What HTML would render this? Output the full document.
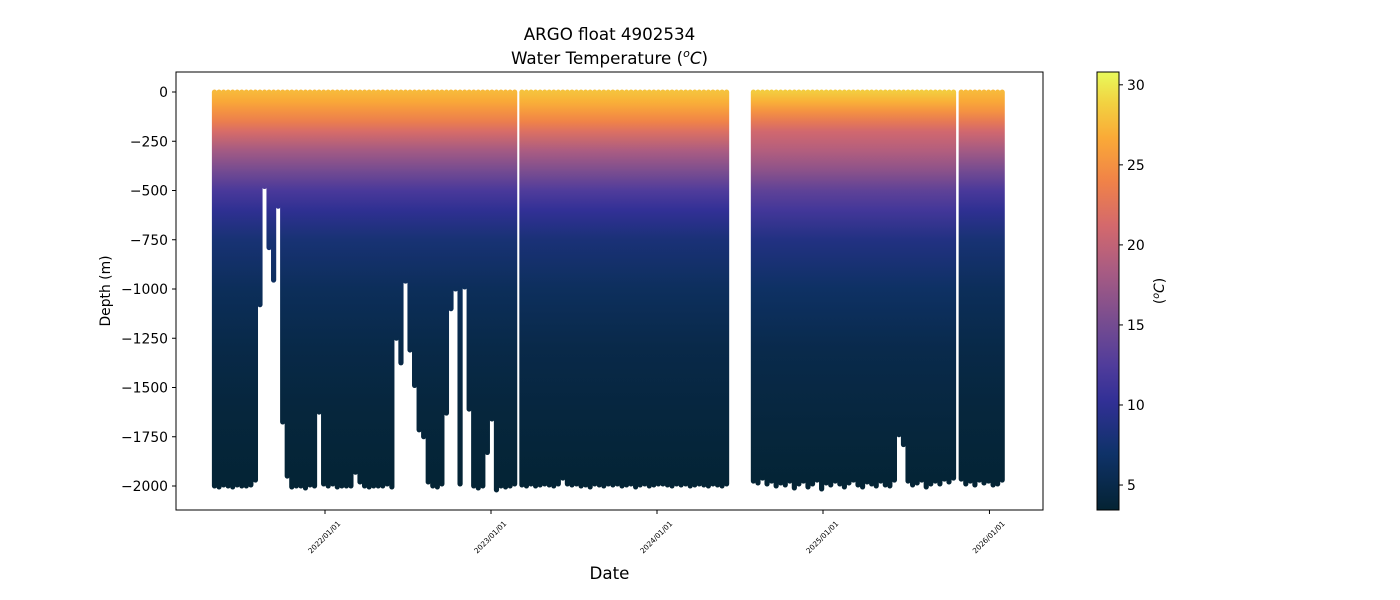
<!DOCTYPE html>
<html><head><meta charset="utf-8"><style>
body{margin:0;background:#fff;}
svg{display:block;font-family:"DejaVu Sans","Liberation Sans",sans-serif;}
</style></head><body>
<svg id="chart" width="1400" height="600" viewBox="0 0 1400 600" xmlns="http://www.w3.org/2000/svg">
<rect width="1400" height="600" fill="#fff"/>
<defs id="defs"></defs>
<text x="609.5" y="40" text-anchor="middle" font-size="16.7">ARGO float 4902534</text>
<text x="609.5" y="64" text-anchor="middle" font-size="16.7">Water Temperature (<tspan font-style="italic" font-size="11" dy="-7">o</tspan><tspan font-style="italic" dy="7">C</tspan>)</text>
<g id="plot"></g>
<rect x="176" y="72" width="867" height="438" fill="none" stroke="#000" stroke-width="1"/>
<g id="yaxis"></g>
<g id="xaxis"></g>
<text transform="translate(110,291) rotate(-90)" text-anchor="middle" font-size="13.9">Depth (m)</text>
<text x="609.5" y="579" text-anchor="middle" font-size="16.7">Date</text>
<g id="cbar"></g>
<text transform="translate(1164,291) rotate(-90)" text-anchor="middle" font-size="13.9">(<tspan font-style="italic" font-size="9.5" dy="-5">o</tspan><tspan font-style="italic" dy="5">C</tspan>)</text>
</svg>
<script>
const NS="http://www.w3.org/2000/svg";
// ---- data ----
const seg1Days=[-243,-233,-223,-213,-203,-193,-183,-173,-163,-153,-143,-133,-123,-113,-103,-93,-83,-73,-63,-53,-43,-33,-23,-13,-3,7,17,27,37,47,57,67,77,87,97,107,117,127,137,147,157,167,177,187,197,207,217,227,237,247,257,267,277,287,297,307,317,327,337,347,357,367,377,387,397,407,417];
const seg1Depths=[2000,2005,1995,2000,2005,1995,2000,2000,1995,1970,1080,480,790,955,580,1675,1950,2005,2000,2000,2010,1995,2000,1625,1990,2000,1990,2005,2000,2000,2000,1930,1980,2000,2005,2000,2000,2000,1990,2005,1250,1375,960,1310,1490,1715,1750,1980,2000,2005,1990,1630,1100,1000,1990,990,1610,2000,2010,2000,1830,1660,2020,2000,2005,2000,1990];
const seg2Days=[433,443,453,463,473,483,493,503,513,523,533,543,553,563,573,583,593,603,613,623,633,643,653,663,673,683,693,703,713,723,733,743,753,763,773,783,793,803,813,823,833,843,853,863,873,883];
const seg2Depths=[1995,2000,1990,2000,1995,1990,1995,2000,1990,1960,1990,1995,1990,2000,1995,2005,1990,1995,2000,1990,1995,1990,2000,1995,1990,2005,1995,1990,2000,1995,1990,1990,1995,2000,1990,1995,1990,2000,1995,1990,1995,2000,1990,1995,2000,1990];
const seg3Days=[942,952,962,972,982,992,1002,1012,1022,1032,1042,1052,1062,1072,1082,1092,1102,1112,1122,1132,1142,1152,1162,1172,1182,1192,1202,1212,1222,1232,1242,1252,1262,1272,1282,1292,1302,1312,1322,1332,1342,1352,1362,1372,1382];
const seg3Depths=[1975,1985,1960,1990,1975,2000,1985,1995,1975,2010,1990,1975,2005,1990,1970,2015,1985,1995,1975,1990,2005,1985,1970,1995,2005,1980,1990,2000,1975,1995,2000,1970,1740,1790,1975,1995,1985,1970,2005,1990,1975,1990,1965,1980,1960];
const seg4Days=[1399,1409,1419,1429,1439,1449,1459,1469,1479,1489];
const seg4Depths=[1965,1990,1975,1995,1970,1985,1975,1995,1990,1970];
const levelDepths=[0,50,100,150,200,300,400,500,600,750,1000,1300,1600,2000];
const seg1Temps=[27.5,26.5,25,23.5,21.5,18,15,12,10,7.8,6,4.8,4.1,3.6];
const seg2Temps=[28,27,25.5,24,22,18.5,15.5,12.5,10.3,8,6.2,4.9,4.2,3.6];
const seg3Temps=[28.5,27,25,23,21,19,16.5,13.5,11.5,8.8,6.7,5.1,4.3,3.6];
const seg4Temps=[27.5,26.5,25,23,21,18,15,12,10,7.8,6,4.8,4.1,3.6];
const yTicks=[0,-250,-500,-750,-1000,-1250,-1500,-1750,-2000];
const xTickDays=[0,365,730,1095,1461];
const xTickLabels=["2022/01/01","2023/01/01","2024/01/01","2025/01/01","2026/01/01"];
const cbTicks=[5,10,15,20,25,30];
// ---- scales ----
const X0=325, PX_PER_DAY=166/365;
function xScale(d){return X0+d*PX_PER_DAY;}
function yScale(depth){return 92+depth*0.197;}
const TMIN=3.44,TMAX=30.8;
const cmap=[[0,[4,35,51]],[0.13,[15,50,105]],[0.25,[50,48,150]],[0.33,[80,60,155]],[0.42,[115,75,145]],[0.55,[170,92,130]],[0.65,[212,105,108]],[0.75,[240,130,72]],[0.85,[250,170,55]],[0.93,[242,210,65]],[1,[232,250,91]]];
function color(t){let f=(t-TMIN)/(TMAX-TMIN);f=Math.max(0,Math.min(1,f));
for(let i=1;i<cmap.length;i++){if(f<=cmap[i][0]){const a=cmap[i-1],b=cmap[i];const u=(f-a[0])/(b[0]-a[0]);
return "rgb("+a[1].map((v,j)=>Math.round(v+(b[1][j]-v)*u)).join(",")+")";}}return "rgb(232,250,91)";}
const defs=document.getElementById('defs');
function makeGrad(id,temps){const g=document.createElementNS(NS,'linearGradient');g.setAttribute('id',id);
g.setAttribute('gradientUnits','userSpaceOnUse');g.setAttribute('x1',0);g.setAttribute('x2',0);
g.setAttribute('y1',yScale(0));g.setAttribute('y2',yScale(2000));
levelDepths.forEach((d,i)=>{const s=document.createElementNS(NS,'stop');s.setAttribute('offset',d/2000);s.setAttribute('stop-color',color(temps[i]));g.appendChild(s);});
defs.appendChild(g);}
makeGrad('g1',seg1Temps);makeGrad('g2',seg2Temps);makeGrad('g3',seg3Temps);makeGrad('g4',seg4Temps);
const plot=document.getElementById('plot');
function drawSeg(days,depths,grad){days.forEach((d,i)=>{const r=document.createElementNS(NS,'rect');


const x=xScale(d);r.setAttribute('x',x-2.6);r.setAttribute('width',5.2);
r.setAttribute('y',yScale(0)-2.5);r.setAttribute('height',yScale(depths[i])-yScale(0)+5);
r.setAttribute('rx',2.6);r.setAttribute('fill','url(#'+grad+')');plot.appendChild(r);});}
drawSeg(seg1Days,seg1Depths,'g1');drawSeg(seg2Days,seg2Depths,'g2');drawSeg(seg3Days,seg3Depths,'g3');drawSeg(seg4Days,seg4Depths,'g4');
// y axis
const ya=document.getElementById('yaxis');
yTicks.forEach(v=>{const y=yScale(-v);
const l=document.createElementNS(NS,'line');l.setAttribute('x1',172);l.setAttribute('x2',176);l.setAttribute('y1',y);l.setAttribute('y2',y);l.setAttribute('stroke','#000');

ya.appendChild(l);
const t=document.createElementNS(NS,'text');t.setAttribute('x',168);t.setAttribute('y',y+5);t.setAttribute('text-anchor','end');t.setAttribute('font-size','13.9');
t.textContent=(v<0?'\u2212':'')+Math.abs(v);

ya.appendChild(t);});
// x axis
const xa=document.getElementById('xaxis');
xTickDays.forEach((d,i)=>{const x=xScale(d);
const l=document.createElementNS(NS,'line');l.setAttribute('x1',x);l.setAttribute('x2',x);l.setAttribute('y1',510);l.setAttribute('y2',514);l.setAttribute('stroke','#000');

xa.appendChild(l);
const t=document.createElementNS(NS,'text');t.setAttribute('transform','translate('+(x+1)+',539) rotate(-45)');t.setAttribute('text-anchor','middle');t.setAttribute('font-size','7.3');
t.textContent=xTickLabels[i];

xa.appendChild(t);});
// colorbar
const cb=document.getElementById('cbar');
const cg=document.createElementNS(NS,'linearGradient');cg.setAttribute('id','cbg');cg.setAttribute('x1',0);cg.setAttribute('x2',0);cg.setAttribute('y1',1);cg.setAttribute('y2',0);
cmap.forEach(s=>{const st=document.createElementNS(NS,'stop');st.setAttribute('offset',s[0]);st.setAttribute('stop-color','rgb('+s[1].join(',')+')');cg.appendChild(st);});
defs.appendChild(cg);
const cr=document.createElementNS(NS,'rect');cr.setAttribute('x',1097);cr.setAttribute('y',72);cr.setAttribute('width',22);cr.setAttribute('height',438);cr.setAttribute('fill','url(#cbg)');cr.setAttribute('stroke','#000');

cb.appendChild(cr);
function cbY(t){return 510-(t-TMIN)/(TMAX-TMIN)*438;}
cbTicks.forEach(v=>{const y=cbY(v);
const l=document.createElementNS(NS,'line');l.setAttribute('x1',1119);l.setAttribute('x2',1123);l.setAttribute('y1',y);l.setAttribute('y2',y);l.setAttribute('stroke','#000');

cb.appendChild(l);
const t=document.createElementNS(NS,'text');t.setAttribute('x',1127);t.setAttribute('y',y+5);t.setAttribute('font-size','13.9');t.textContent=v;

cb.appendChild(t);});
</script>
</body></html>
